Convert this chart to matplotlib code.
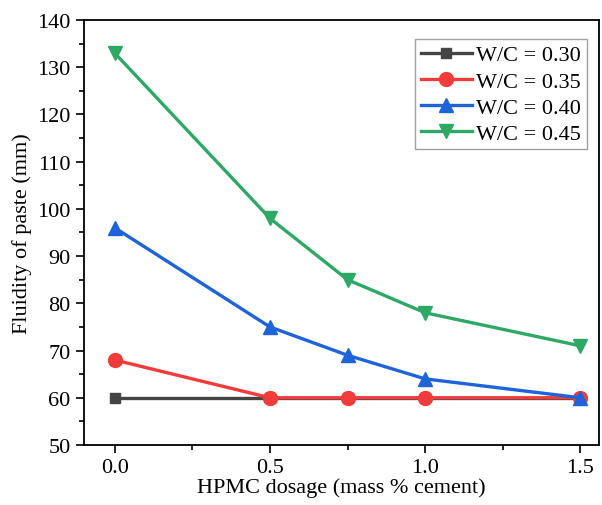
import matplotlib
matplotlib.use("Agg")
import matplotlib.pyplot as plt
from matplotlib.ticker import MultipleLocator

# HPMC dosage (mass % cement)
dosage = [0.0, 0.5, 0.75, 1.0, 1.5]

# Fluidity of paste (mm) per W/C ratio
wc_030 = [60, 60, 60, 60, 60]
wc_035 = [68, 60, 60, 60, 60]
wc_040 = [96, 75, 69, 64, 60]
wc_045 = [133, 98, 85, 78, 71]

labels = ["W/C = 0.30", "W/C = 0.35", "W/C = 0.40", "W/C = 0.45"]

plt.rcParams["font.family"] = ["Liberation Serif", "DejaVu Serif"]
plt.rcParams["font.size"] = 16

fig = plt.figure(figsize=(6.02, 5.06), dpi=100)
ax = fig.add_axes([0.139, 0.1186, 0.856, 0.8399])

styles = [
    (wc_030, "#444444", "s", 7.5),
    (wc_035, "#f23b3b", "o", 10),
    (wc_040, "#1e63d8", "^", 10),
    (wc_045, "#2ea865", "v", 10),
]
for (vals, color, marker, ms), lab in zip(styles, labels):
    ax.plot(dosage, vals, color=color, marker=marker, markersize=ms,
            linewidth=2.4, label=lab)

ax.set_xlim(-0.1, 1.56)
ax.set_ylim(50, 140)
ax.xaxis.set_major_locator(MultipleLocator(0.5))
ax.xaxis.set_minor_locator(MultipleLocator(0.25))
ax.yaxis.set_major_locator(MultipleLocator(10))
ax.yaxis.set_minor_locator(MultipleLocator(5))
ax.xaxis.set_major_formatter(plt.FormatStrFormatter("%.1f"))
ax.tick_params(which="major", direction="out", length=6, width=1.2, labelsize=16)
ax.tick_params(which="minor", direction="out", length=3.5, width=1.2)
for s in ax.spines.values():
    s.set_linewidth(1.3)

ax.set_xlabel("HPMC dosage (mass % cement)", fontsize=16, labelpad=0)
ax.set_ylabel("Fluidity of paste (mm)", fontsize=16, labelpad=4)

leg = ax.legend(loc="upper right", bbox_to_anchor=(0.985, 0.965), fontsize=16,
                fancybox=False, edgecolor="#888888", handlelength=2.3,
                borderpad=0.25, labelspacing=0.25, handletextpad=0.2,
                borderaxespad=0.2)
leg.get_frame().set_linewidth(1.0)

fig.savefig("out.png", dpi=100)
